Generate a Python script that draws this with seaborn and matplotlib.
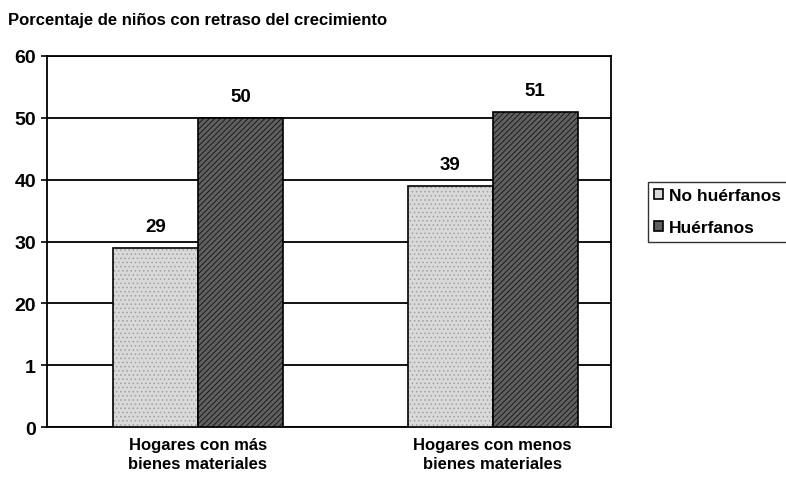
import pandas as pd
import seaborn as sns
import matplotlib.pyplot as plt

# Data
grupos = ["Hogares con más\nbienes materiales", "Hogares con menos\nbienes materiales"]
series = ["No huérfanos", "Huérfanos"]
no_huerfanos = [29, 39]
huerfanos = [50, 51]
y_ticks = [0, 10, 20, 30, 40, 50, 60]
y_labels = ["0", "1", "20", "30", "40", "50", "60"]

df = pd.DataFrame({
    "grupo": grupos * 2,
    "serie": [series[0]] * 2 + [series[1]] * 2,
    "valor": no_huerfanos + huerfanos,
})

sns.set_style("white")
plt.rcParams["font.family"] = ["Liberation Sans", "DejaVu Sans"]
plt.rcParams["text.color"] = "black"
plt.rcParams["xtick.color"] = "black"
plt.rcParams["ytick.color"] = "black"
plt.rcParams["xtick.labelcolor"] = "black"
plt.rcParams["ytick.labelcolor"] = "black"
plt.rcParams["hatch.linewidth"] = 0.6

fig = plt.figure(figsize=(7.86, 4.81), dpi=100)
ax = fig.add_axes([0.0598, 0.110, 0.717, 0.7715])

sns.barplot(data=df, x="grupo", y="valor", hue="serie", hue_order=series,
            palette=["#d9d9d9", "#606060"], width=0.576, edgecolor="black",
            linewidth=1.2, saturation=1, ax=ax, zorder=3)

# textures: stipple on light bars, diagonal hatch on dark bars
textures = [("....", "#a0a0a0"), ("//////", "#111111")]
for cont, (h, hc) in zip(ax.containers, textures):
    for bar in cont:
        bar.set_hatch(h)
        bar._hatch_color = plt.matplotlib.colors.to_rgba(hc)
    ax.bar_label(cont, padding=9, fontsize=13.5, fontweight="bold", color="black")

ax.set_ylim(0, 60)
ax.set_xlim(-0.512, 1.40)
ax.set_yticks(y_ticks)
ax.set_yticklabels(y_labels, fontsize=14, fontweight="bold")
ax.yaxis.grid(True, color="black", linewidth=1.3, zorder=0)
ax.set_axisbelow(True)
ax.tick_params(axis="y", length=4, width=1.2, direction="out", left=True, pad=4)

ax.set_xticks([0, 1])
ax.set_xticklabels(grupos, fontsize=12, fontweight="bold", linespacing=1.35)
ax.set_xticks([-0.5, 0.5, 1.40], minor=True)
ax.tick_params(axis="x", which="major", length=0, pad=7)
ax.tick_params(axis="x", which="minor", length=7, width=1.2, direction="inout")

for s in ax.spines.values():
    s.set_visible(True)
    s.set_color("black")
    s.set_linewidth(1.3)

ax.set_xlabel("")
ax.set_ylabel("")

leg = ax.legend(loc="upper left", bbox_to_anchor=(648 / 786, 1 - 183 / 481),
                bbox_transform=fig.transFigure, frameon=True, fancybox=False,
                edgecolor="black", handlelength=0.5, handleheight=0.5,
                handletextpad=0.35, borderpad=0.35, labelspacing=1.0,
                borderaxespad=0, prop={"weight": "bold", "size": 12.5})
leg.get_frame().set_linewidth(1.0)

fig.text(8 / 786, 1 - 20 / 481, "Porcentaje de niños con retraso del crecimiento",
         fontsize=12, fontweight="bold", va="center", ha="left")

fig.savefig("out.png", dpi=100)
